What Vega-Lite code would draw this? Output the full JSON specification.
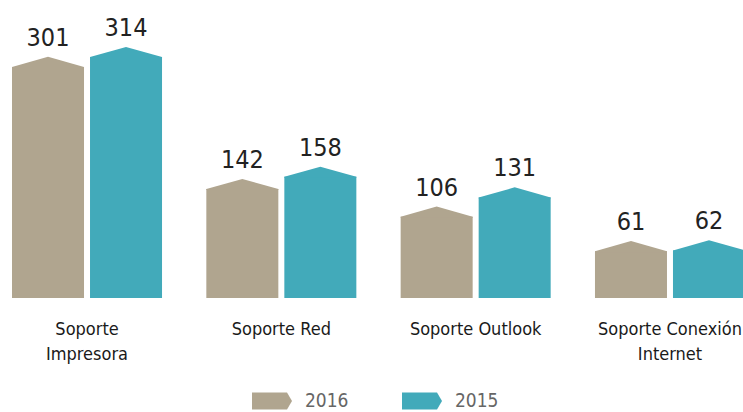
{
  "$schema": "https://vega.github.io/schema/vega-lite/v6.json",
  "width": 743,
  "height": 261,
  "autosize": "none",
  "padding": {"left": 0, "top": 37, "right": 0, "bottom": 114},
  "background": "white",
  "config": {
    "view": {"stroke": null},
    "font": "DejaVu Sans Condensed, sans-serif"
  },
  "data": {
    "values": [
      {"cat": "Soporte Impresora", "year": "2016", "value": 301},
      {"cat": "Soporte Impresora", "year": "2015", "value": 314},
      {"cat": "Soporte Red", "year": "2016", "value": 142},
      {"cat": "Soporte Red", "year": "2015", "value": 158},
      {"cat": "Soporte Outlook", "year": "2016", "value": 106},
      {"cat": "Soporte Outlook", "year": "2015", "value": 131},
      {"cat": "Soporte Conexión Internet", "year": "2016", "value": 61},
      {"cat": "Soporte Conexión Internet", "year": "2015", "value": 62}
    ]
  },
  "encoding": {
    "x": {
      "field": "cat",
      "type": "nominal",
      "sort": null,
      "scale": {"range": [0, 757], "paddingInner": 0.228, "paddingOuter": 0.0618},
      "axis": {
        "title": null,
        "domain": false,
        "ticks": false,
        "labelAngle": 0,
        "labelFontSize": 18,
        "labelColor": "#1a1a1a",
        "labelPadding": 22,
        "labelLineHeight": 25,
        "labelFont": "DejaVu Sans Condensed, sans-serif",
        "labelExpr": "datum.value == 'Soporte Impresora' ? ['Soporte','Impresora'] : datum.value == 'Soporte Conexión Internet' ? ['Soporte Conexión','Internet'] : datum.value"
      }
    },
    "xOffset": {
      "field": "year",
      "type": "nominal",
      "sort": ["2016", "2015"],
      "scale": {"paddingInner": 0.0769, "paddingOuter": 0}
    },
    "y": {
      "field": "value",
      "type": "quantitative",
      "scale": {"domain": [0, 340]},
      "axis": null
    }
  },
  "layer": [
    {
      "mark": {"type": "bar", "opacity": 1},
      "encoding": {
        "color": {
          "field": "year",
          "type": "nominal",
          "scale": {"domain": ["2016", "2015"], "range": ["#B0A58F", "#42AABA"]},
          "legend": {
            "title": null,
            "orient": "none",
            "direction": "horizontal",
            "legendX": 252,
            "legendY": 344,
            "padding": 0,
            "symbolType": "M -1 -0.42 L 0.75 -0.42 L 1 0 L 0.75 0.42 L -1 0.42 Z",
            "symbolSize": 1600,
            "symbolStrokeWidth": 0,
            "symbolOpacity": 1,
            "labelFontSize": 19,
            "labelColor": "#666666",
            "labelOffset": 13,
            "columnPadding": 53,
            "labelFont": "DejaVu Sans Condensed, sans-serif"
          }
        }
      }
    },
    {
      "mark": {
        "type": "point",
        "filled": true,
        "opacity": 1,
        "strokeWidth": 0,
        "size": 5184,
        "shape": "M -1 0.03 L -1 0 L 0 -0.28 L 1 0 L 1 0.03 Z"
      },
      "encoding": {
        "color": {"field": "year", "type": "nominal", "legend": null}
      }
    },
    {
      "mark": {
        "type": "text",
        "baseline": "alphabetic",
        "dy": -21,
        "fontSize": 25,
        "color": "#222222"
      },
      "encoding": {
        "text": {"field": "value", "type": "quantitative"}
      }
    }
  ]
}
